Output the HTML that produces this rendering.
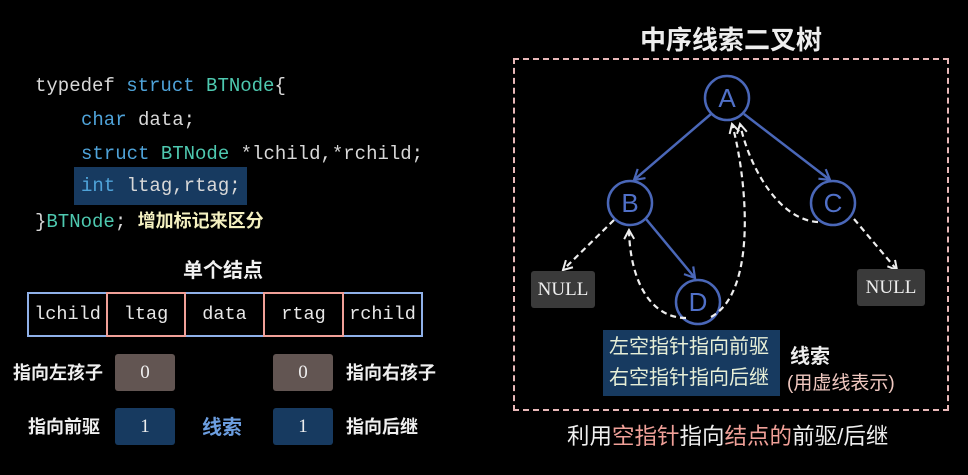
<!DOCTYPE html>
<html><head><meta charset="utf-8"><style>
body{margin:0;width:968px;height:475px;background:#000;overflow:hidden;position:relative;font-family:"Liberation Sans","Noto Sans CJK SC",sans-serif;}
.a{position:absolute;white-space:nowrap;}
.code{font-family:"Liberation Mono","Noto Sans CJK SC",monospace;font-size:19px;color:#d8d8d8;}
.k{color:#4fa3d9}.t{color:#4ec9b0}
.cell{position:absolute;top:292px;height:45px;box-sizing:border-box;border:2px solid #8fb0e8;font-family:"Liberation Mono",monospace;font-size:18.5px;color:#e8e8e8;display:flex;align-items:center;justify-content:center;}
.red{border-color:#f0a098;z-index:2}
.box{position:absolute;width:60px;height:37px;border-radius:3px;color:#eee;font-family:"Liberation Serif",serif;font-size:19px;display:flex;align-items:center;justify-content:center;}
.lbl{font-size:18px;color:#f0f0f0;font-weight:bold}
</style></head><body>
<div class="a code" style="left:35px;top:75px">typedef <span class="k">struct</span> <span class="t">BTNode</span>{</div>
<div class="a code" style="left:81px;top:109px"><span class="k">char</span> data;</div>
<div class="a code" style="left:81px;top:143px"><span class="k">struct</span> <span class="t">BTNode</span> *lchild,*rchild;</div>
<div class="a" style="left:74px;top:167px;width:173px;height:38px;background:#173a60"></div>
<div class="a code" style="left:81px;top:175px"><span class="k">int</span> ltag,rtag;</div>
<div class="a code" style="left:35px;top:207px">}<span class="t">BTNode</span>; <span style="font-family:'Noto Sans CJK SC',sans-serif;font-size:18px;color:#f4f0c0;font-weight:bold">增加标记来区分</span></div>
<div class="a lbl" style="left:183px;top:254px;font-size:20px">单个结点</div>
<div class="cell" style="left:27px;width:81px">lchild</div>
<div class="cell red" style="left:106px;width:80px">ltag</div>
<div class="cell" style="left:184px;width:81px">data</div>
<div class="cell red" style="left:263px;width:81px">rtag</div>
<div class="cell" style="left:342px;width:81px">rchild</div>
<div class="a lbl" style="left:13px;top:359px">指向左孩子</div>
<div class="box" style="left:115px;top:354px;background:#625552">0</div>
<div class="box" style="left:273px;top:354px;background:#625552">0</div>
<div class="a lbl" style="left:346px;top:359px">指向右孩子</div>
<div class="a lbl" style="left:28px;top:413px">指向前驱</div>
<div class="box" style="left:115px;top:408px;background:#173a60">1</div>
<div class="a lbl" style="left:202px;top:411px;color:#6c9ee0;font-size:20px">线索</div>
<div class="box" style="left:273px;top:408px;background:#173a60">1</div>
<div class="a lbl" style="left:346px;top:413px">指向后继</div>

<div class="a" style="left:640px;top:20px;font-size:26px;font-weight:bold;color:#eee">中序线索二叉树</div>
<div class="a" style="left:513px;top:58px;width:432px;height:349px;border:2px dashed #e8b8b8"></div>
<svg class="a" style="left:0;top:0" width="968" height="475">
<defs>
<marker id="bl" markerWidth="14" markerHeight="14" refX="11" refY="7" orient="auto" markerUnits="userSpaceOnUse"><path d="M1,1 L11,7 L1,13" fill="none" stroke="#4a67b8" stroke-width="2.2"/></marker>
<marker id="wh" markerWidth="12" markerHeight="12" refX="10" refY="6" orient="auto" markerUnits="userSpaceOnUse"><path d="M1,1 L10,6 L1,11" fill="none" stroke="#eee" stroke-width="2"/></marker>
</defs>
<g stroke="#4a67b8" stroke-width="2.5" fill="none">
<circle cx="727" cy="98" r="22"/><circle cx="630" cy="203" r="22"/><circle cx="833" cy="203" r="22"/><circle cx="698" cy="302" r="22"/>
<line x1="711" y1="114" x2="634" y2="180" marker-end="url(#bl)"/>
<line x1="744" y1="114" x2="830" y2="180" marker-end="url(#bl)"/>
<line x1="646" y1="219" x2="695" y2="278" marker-end="url(#bl)"/>
</g>
<g stroke="#eee" stroke-width="2.2" stroke-dasharray="6,4" fill="none">
<path d="M614 220 L563 270" marker-end="url(#wh)"/>
<path d="M854 219 L897 270" marker-end="url(#wh)"/>
<path d="M686 318 C650 318 630 280 629 230" marker-end="url(#wh)"/>
<path d="M711 317 C760 290 745 170 732 124" marker-end="url(#wh)"/>
<path d="M818 222 C780 220 750 170 740 124" marker-end="url(#wh)"/>
</g>
<g font-family="Liberation Sans,sans-serif" font-size="26" fill="#5070c8" text-anchor="middle">
<text x="727" y="107">A</text><text x="630" y="212">B</text><text x="833" y="212">C</text><text x="698" y="311">D</text>
</g>
</svg>
<div class="box" style="left:531px;top:271px;width:64px;background:#3a3a3a;font-size:19px">NULL</div>
<div class="box" style="left:857px;top:269px;width:68px;background:#3a3a3a;font-size:19px">NULL</div>
<div class="a" style="left:603px;top:330px;width:177px;height:66px;background:#173a60"></div>
<div class="a" style="left:609px;top:332px;font-size:20px;color:#e8f0d8;line-height:31px">左空指针指向前驱<br>右空指针指向后继</div>
<div class="a" style="left:790px;top:340px;font-size:20px;color:#eee;font-weight:bold">线索</div>
<div class="a" style="left:787px;top:368px;font-size:19px;color:#f0c8c0">(用虚线表示)</div>
<div class="a" style="left:567px;top:419px;font-size:22.5px;color:#eee">利用<span style="color:#f0a098">空指针</span>指向<span style="color:#f0a098">结点的</span>前驱/后继</div>
</body></html>
